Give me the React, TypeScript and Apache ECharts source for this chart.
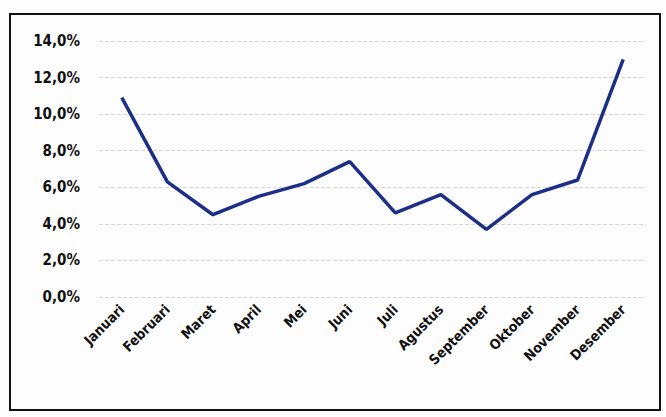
import React, { useEffect, useRef } from "react";
import * as echarts from "echarts";

const months = ["Januari", "Februari", "Maret", "April", "Mei", "Juni", "Juli", "Agustus", "September", "Oktober", "November", "Desember"];
const values = [10.9, 6.3, 4.5, 5.5, 6.2, 7.4, 4.6, 5.6, 3.7, 5.6, 6.4, 13.0];
const yTicks = { min: 0, max: 14, interval: 2 };

export default function App() {
  const ref = useRef<HTMLDivElement>(null);
  useEffect(() => {
    const chart = echarts.init(ref.current!, null, { renderer: "svg" });
    chart.setOption({
      animation: false,
      backgroundColor: "#fdfdfd",
      textStyle: { fontFamily: "Liberation Sans Narrow, DejaVu Sans Condensed, sans-serif" },
      graphic: [
        {
          type: "rect",
          shape: { x: 10, y: 14, width: 650, height: 396 },
          style: { fill: "none", stroke: "#111", lineWidth: 2 },
          silent: true,
        },
      ],
      grid: { left: 99, right: 20, top: 41, bottom: 120 },
      xAxis: {
        type: "category",
        data: months,
        boundaryGap: true,
        axisLine: { show: false },
        axisTick: { show: false },
        axisLabel: {
          rotate: 45,
          interval: 0,
          color: "#111",
          fontSize: 14,
          fontWeight: "bold",
          margin: 10,
        },
      },
      yAxis: {
        type: "value",
        min: yTicks.min,
        max: yTicks.max,
        interval: yTicks.interval,
        axisLine: { show: false },
        axisTick: { show: false },
        splitLine: { lineStyle: { color: "#d8d8d8", type: "dashed", width: 1 } },
        axisLabel: {
          color: "#111",
          fontSize: 15,
          fontWeight: "bold",
          margin: 19,
          formatter: (v: number) => v.toFixed(1).replace(".", ",") + "%",
        },
      },
      series: [
        {
          type: "line",
          data: values,
          symbol: "none",
          lineStyle: { color: "#1c2f86", width: 3.5 },
        },
      ],
    });
    return () => chart.dispose();
  }, []);
  return <div ref={ref} style={{ position: "fixed", left: 0, top: 0, width: 666, height: 417 }} />;
}
